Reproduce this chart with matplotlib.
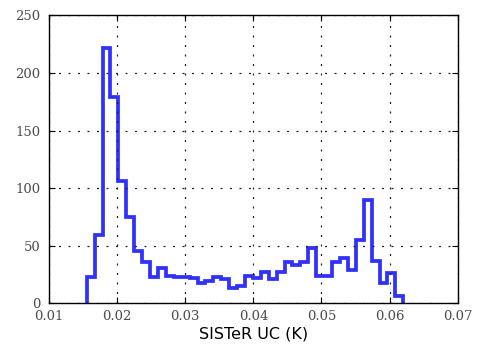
import numpy as np
import matplotlib
matplotlib.use("Agg")
import matplotlib.pyplot as plt

# histogram counts of the uncertainty, 40 equal bins
counts = [23, 59, 222, 179, 106, 75, 45, 36, 23, 31,
          24, 23, 23, 22, 18, 19, 23, 21, 13, 15,
          24, 22, 27, 21, 27, 36, 33, 36, 48, 24,
          24, 36, 39, 29, 55, 90, 37, 18, 26, 6]
bin_lo = 0.01553
bin_hi = 0.06202
xticks = [0.01, 0.02, 0.03, 0.04, 0.05, 0.06, 0.07]
yticks = [0, 50, 100, 150, 200, 250]

edges = np.linspace(bin_lo, bin_hi, len(counts) + 1)

fig = plt.figure(figsize=(4.81, 3.51), dpi=100)
ax = fig.add_axes([0.1019, 0.1359, 0.8496, 0.8205])

ax.stairs(counts, edges, color="#3030ff", linewidth=2.7)

ax.set_xlim(0.01, 0.07)
ax.set_ylim(0, 250)
ax.set_xticks(xticks)
ax.set_xticklabels([f"{t:.2f}" for t in xticks])
ax.set_yticks(yticks)
ax.grid(True, color="#222222", linestyle=(0, (1.6, 6)), linewidth=0.9)

ax.tick_params(direction="in", top=True, right=True, length=4, width=0.8,
               labelsize=9.5, labelcolor="#4a4a4a")
ax.tick_params(axis="x", pad=5)
ax.tick_params(axis="y", pad=6)
for lab in ax.get_xticklabels() + ax.get_yticklabels():
    lab.set_family("DejaVu Serif")
for sp in ax.spines.values():
    sp.set_linewidth(1.0)

ax.set_xlabel("SISTeR UC (K)", fontsize=11.5, family="DejaVu Sans", labelpad=2)

fig.savefig("out.png", dpi=100)
